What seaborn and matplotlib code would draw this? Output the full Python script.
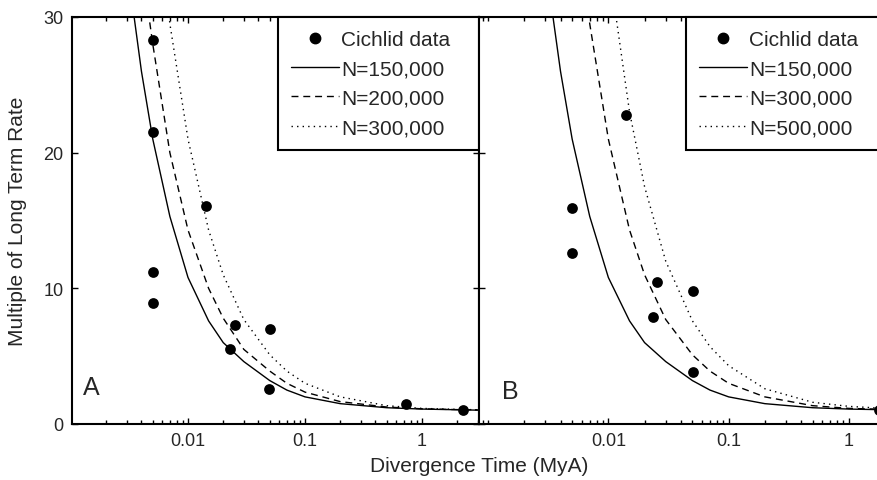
import numpy as np
import pandas as pd
import matplotlib
matplotlib.use("Agg")
import matplotlib.pyplot as plt
from matplotlib.ticker import FixedLocator, NullFormatter, FixedFormatter
from matplotlib.lines import Line2D
import seaborn as sns

# ---------------- data ----------------
# Panel A cichlid observations
a_x = [0.005, 0.005, 0.005, 0.005, 0.0143, 0.0252, 0.0228, 0.050, 0.049, 0.73, 2.25]
a_y = [28.3, 21.5, 11.2, 8.9, 16.1, 7.3, 5.5, 7.0, 2.6, 1.5, 1.0]
# Panel B cichlid observations
b_x = [0.005, 0.005, 0.0141, 0.0256, 0.0233, 0.051, 0.051, 1.78]
b_y = [15.9, 12.6, 22.8, 10.5, 7.9, 9.8, 3.8, 1.0]

# model curves
curve_x = [0.003, 0.004, 0.005, 0.007, 0.01, 0.015, 0.02, 0.03, 0.05, 0.07,
           0.1, 0.2, 0.5, 1.0, 2.0, 3.0]
n150_y = [34, 26, 21, 15.3, 10.8, 7.6, 6.0, 4.6, 3.2, 2.5, 2.0, 1.5, 1.2, 1.1, 1.05, 1.02]
n200_y = [45, 34, 28, 20, 14.3, 10.0, 7.8, 5.5, 3.9, 3.0, 2.35, 1.65, 1.25, 1.12, 1.06, 1.04]
n300_y = [68, 51, 41, 29.5, 21, 14.3, 11.0, 7.7, 5.1, 3.9, 3.0, 2.0, 1.35, 1.15, 1.08, 1.05]
n500_y = [112, 84, 68, 48, 34, 23, 17.5, 12.0, 7.6, 5.7, 4.3, 2.6, 1.6, 1.3, 1.15, 1.1]

panel_a_labels = ["N=150,000", "N=200,000", "N=300,000"]
panel_b_labels = ["N=150,000", "N=300,000", "N=500,000"]
x_ticks = [0.01, 0.1, 1]
x_tick_labels = ["0.01", "0.1", "1"]
y_ticks = [0, 10, 20, 30]

# ---------------- styling ----------------
sns.set_theme(style="white")
plt.rcParams["font.family"] = ["Liberation Sans", "DejaVu Sans"]
plt.rcParams["axes.edgecolor"] = "black"
plt.rcParams["axes.linewidth"] = 1.5

fig = plt.figure(figsize=(8.78, 4.81), dpi=100)
W, H = 878, 481
axA = fig.add_axes([72 / W, 1 - 425 / H, (479 - 72) / W, (425 - 18) / H])
axB = fig.add_axes([479 / W, 1 - 425 / H, (881 - 479) / W, (425 - 18) / H])

styles = ["-", (0, (5, 3.5)), (0, (1, 3))]

def draw(ax, ox, oy, curves, labels, xlim, leg_left, leg_width):
    for yv, ls, lab in zip(curves, styles, labels):
        df = pd.DataFrame({"x": curve_x, "y": yv})
        sns.lineplot(data=df, x="x", y="y", ax=ax, color="black", lw=1.0,
                     linestyle=ls, legend=False, sort=True, errorbar=None)
    dfp = pd.DataFrame({"x": ox, "y": oy})
    sns.scatterplot(data=dfp, x="x", y="y", ax=ax, color="black", s=60,
                    edgecolor="black", linewidth=0, legend=False, zorder=5)
    ax.set_xscale("log")
    ax.set_xlim(*xlim)
    ax.set_ylim(0, 30)
    ax.xaxis.set_major_locator(FixedLocator(x_ticks))
    ax.xaxis.set_major_formatter(FixedFormatter(x_tick_labels))
    minors = [m * 10.0 ** e for e in range(-4, 1) for m in range(1, 10)]
    ax.xaxis.set_minor_locator(FixedLocator(minors))
    ax.xaxis.set_minor_formatter(NullFormatter())
    ax.set_yticks(y_ticks)
    ax.tick_params(axis="both", which="both", direction="in", top=True, right=True,
                   bottom=True, left=True, color="black")
    ax.tick_params(axis="both", which="major", length=4, width=1, labelsize=13, pad=6)
    ax.tick_params(axis="x", which="minor", length=3, width=1)
    ax.set_xlabel("")
    ax.set_ylabel("")
    for s in ax.spines.values():
        s.set_visible(True)
        s.set_color("black")
        s.set_linewidth(1.5)
    ax.set_facecolor("white")
    handles = [Line2D([], [], color="black", marker="o", linestyle="none", markersize=7.5)]
    for ls in styles:
        handles.append(Line2D([], [], color="black", linestyle=ls, lw=1.0))
    leg = ax.legend(handles, ["Cichlid data"] + labels, loc="upper left",
                    bbox_to_anchor=(leg_left, 0.0, leg_width, 1.0), mode="expand",
                    borderaxespad=0, frameon=True, fancybox=False, fontsize=15,
                    handlelength=2.3, handletextpad=0.12, labelspacing=0.5,
                    borderpad=0.62)
    leg.get_frame().set_edgecolor("black")
    leg.get_frame().set_linewidth(1.5)
    leg.get_frame().set_alpha(1)

draw(axA, a_x, a_y, [n150_y, n200_y, n300_y], panel_a_labels, (0.00102, 3.07),
     (278 - 72) / 407, (479 - 278) / 407)
draw(axB, b_x, b_y, [n150_y, n300_y, n500_y], panel_b_labels, (0.00084, 1.85),
     (686 - 479) / 402, (881 - 686) / 402)
axB.tick_params(axis="y", labelleft=False, right=False)

axA.text(0.027, 0.062, "A", transform=axA.transAxes, fontsize=18, ha="left", va="bottom")
axB.text(0.056, 0.052, "B", transform=axB.transAxes, fontsize=18, ha="left", va="bottom")

axA.set_ylabel("Multiple of Long Term Rate", fontsize=15, labelpad=12)
fig.text(479 / W, 1 - 466 / H, "Divergence Time (MyA)", ha="center", va="center",
         fontsize=15)

fig.savefig("out.png", dpi=100, facecolor="white")
